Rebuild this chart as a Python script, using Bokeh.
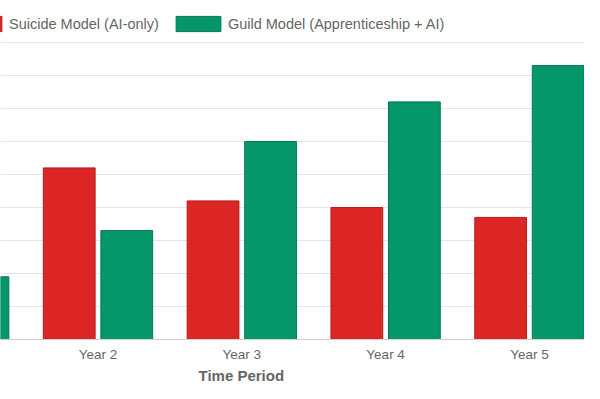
from bokeh.plotting import figure
from bokeh.models import ColumnDataSource, Range1d, FixedTicker, Legend, LegendItem, Title, CDSView, IndexFilter
from bokeh.embed import file_html
from bokeh.resources import INLINE
from bokeh.transform import dodge

years = ["Year 1", "Year 2", "Year 3", "Year 4", "Year 5"]
suicide_model = [65, 52, 42, 40, 37]
guild_model = [19, 33, 60, 72, 83]
grid_values = [10, 20, 30, 40, 50, 60, 70, 80, 90]

xpos = list(range(1, len(years) + 1))
src = ColumnDataSource(dict(x=xpos, suicide=suicide_model, guild=guild_model))

FONT = "Liberation Sans"
GREY = "#666666"

p = figure(width=584, height=383, output_backend="svg", toolbar_location=None,
           x_range=Range1d(1.322, 5.383), y_range=Range1d(0, 102.727),
           min_border_left=0, min_border_right=0, min_border_top=0, min_border_bottom=44)

# the Year 1 red bar lies fully outside the visible window (as in the reference crop)
vis = CDSView(filter=IndexFilter([1, 2, 3, 4]))

r1 = p.vbar(x=dodge("x", -0.2), top="suicide", width=0.36, source=src, view=vis,
            fill_color="#dc2626", line_color=None)
r2 = p.vbar(x=dodge("x", 0.2), top="guild", width=0.36, source=src,
            fill_color="#059669", line_color=None)
b1 = p.vbar(x=dodge("x", -0.2), top="suicide", width=0.36, source=src, view=vis,
            fill_color=None, line_color="#b91c1c", line_width=1)
b2 = p.vbar(x=dodge("x", 0.2), top="guild", width=0.36, source=src,
            fill_color=None, line_color="#047857", line_width=1)

p.outline_line_color = None
p.background_fill_color = "white"
p.border_fill_color = "white"

p.yaxis.visible = False
p.xgrid.visible = False
p.ygrid.ticker = FixedTicker(ticks=grid_values)
p.ygrid.grid_line_color = "#e5e5e5"
p.ygrid.grid_line_width = 1

p.xaxis.ticker = FixedTicker(ticks=xpos)
p.xaxis.major_label_overrides = {i: y for i, y in zip(xpos, years)}
p.xaxis.axis_line_color = "#d0d0d0"
p.xaxis.major_tick_line_color = None
p.xaxis.minor_tick_line_color = None
p.xaxis.major_tick_out = 0
p.xaxis.major_tick_in = 0
p.xaxis.minor_tick_out = 0
p.xaxis.minor_tick_in = 0
p.xaxis.major_label_standoff = 7
p.xaxis.major_label_text_font = FONT
p.xaxis.major_label_text_font_size = "13.5px"
p.xaxis.major_label_text_color = GREY

legend = Legend(items=[LegendItem(label="Suicide Model (AI-only)", renderers=[r1, b1]),
                       LegendItem(label="Guild Model (Apprenticeship + AI)", renderers=[r2, b2])],
                location=(-49, 306), orientation="horizontal",
                glyph_width=56, glyph_height=19, label_standoff=2, spacing=11,
                padding=0, margin=0, border_line_color=None, background_fill_alpha=0,
                label_text_font=FONT, label_text_font_size="14.5px", label_text_color=GREY,
                label_height=19)
p.add_layout(legend, "center")

title = Title(text="Time Period", align="left", offset=198, standoff=0,
              text_font=FONT, text_font_size="15px", text_font_style="bold", text_color=GREY)
p.add_layout(title, "below")

open("out.html", "w").write(file_html(p, INLINE))
